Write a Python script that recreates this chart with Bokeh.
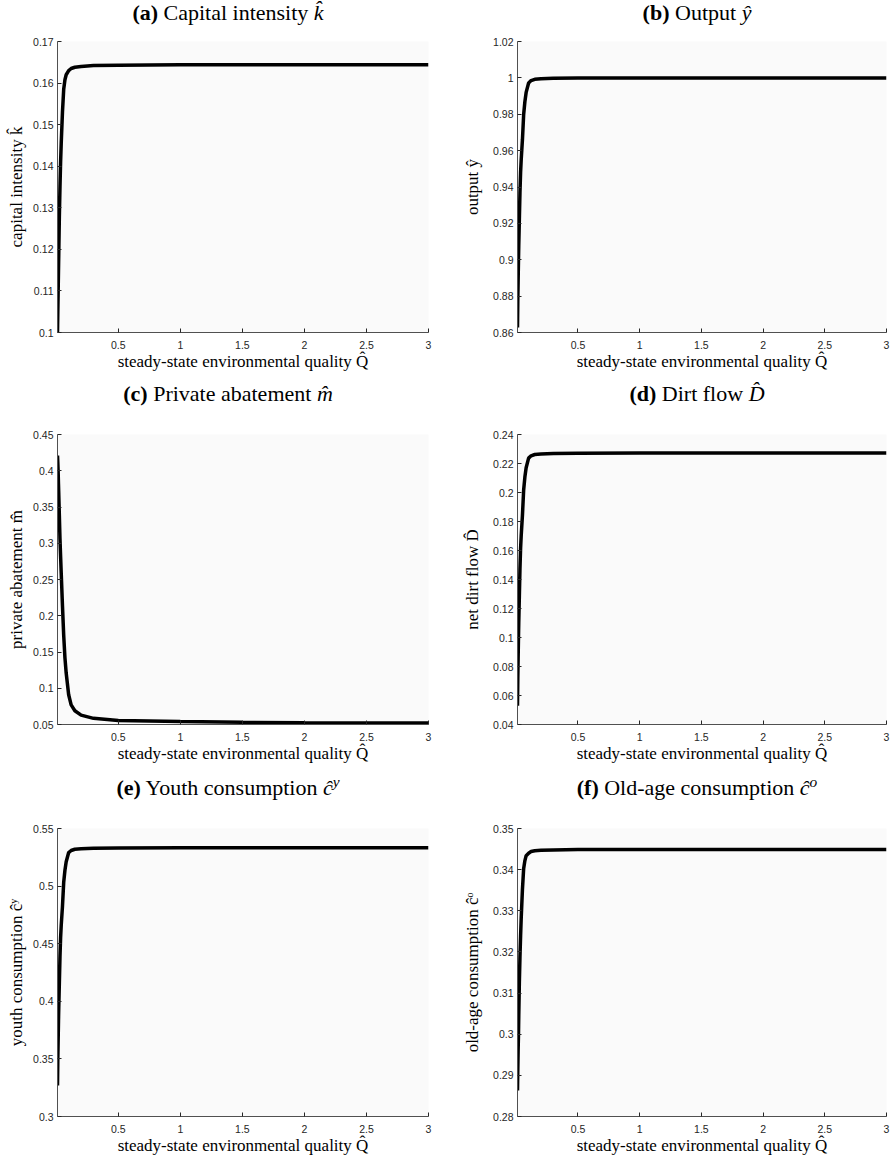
from bokeh.plotting import figure
from bokeh.models import Range1d, FixedTicker, Div
from bokeh.layouts import column, row
from bokeh.embed import file_html
from bokeh.resources import INLINE

# steady-state environmental quality Q-hat (x values)
Q = [0.01, 0.0125, 0.015, 0.018, 0.02, 0.025, 0.03, 0.035, 0.04, 0.05, 0.06, 0.07,
     0.08, 0.1, 0.12, 0.15, 0.2, 0.3, 0.5, 1.0, 1.5, 2.0, 2.5, 3.0]

capital = [0.1000, 0.1050, 0.1095, 0.1150, 0.1185, 0.1280, 0.1350, 0.1410, 0.1455, 0.1530,
           0.1585, 0.1608, 0.1620, 0.1630, 0.1635, 0.1638, 0.1640, 0.1642, 0.1643, 0.1644,
           0.1644, 0.1644, 0.1644, 0.1644]
output = [0.8627, 0.878, 0.888, 0.900, 0.907, 0.922, 0.937, 0.948, 0.955, 0.966, 0.980,
          0.987, 0.992, 0.9972, 0.9985, 0.9992, 0.9995, 0.9998, 0.9999, 1.0, 1.0, 1.0, 1.0, 1.0]
abatement = [0.421, 0.411, 0.400, 0.381, 0.369, 0.338, 0.306, 0.282, 0.259, 0.214, 0.173,
             0.142, 0.121, 0.091, 0.077, 0.069, 0.063, 0.0585, 0.0555, 0.054, 0.053, 0.0525,
             0.0522, 0.052]
dirt = [0.053, 0.0723, 0.0851, 0.1004, 0.1093, 0.1283, 0.1474, 0.1614, 0.1702, 0.1842,
        0.2019, 0.2108, 0.2171, 0.2237, 0.2253, 0.2262, 0.2265, 0.2269, 0.2271, 0.2272,
        0.2272, 0.2273, 0.2273, 0.2273]
youth = [0.327, 0.3499, 0.3649, 0.3831, 0.3936, 0.4161, 0.4388, 0.4553, 0.4658, 0.4823,
         0.5033, 0.5138, 0.5212, 0.5291, 0.5309, 0.5320, 0.5324, 0.5329, 0.5331, 0.5332,
         0.5332, 0.5332, 0.5332, 0.5332]
old = [0.2863, 0.2915, 0.2960, 0.3000, 0.3040, 0.3125, 0.3188, 0.3238, 0.3282, 0.3352,
       0.3403, 0.3422, 0.3434, 0.3440, 0.3444, 0.3446, 0.3447, 0.3448, 0.3449, 0.3449,
       0.3449, 0.3449, 0.3449, 0.3449]

x_ticks = [0.5, 1.0, 1.5, 2.0, 2.5, 3.0]
x_tick_labels = ["0.5", "1", "1.5", "2", "2.5", "3"]
x_limits = [0.01, 3.0]

k_ticks = [0.1, 0.11, 0.12, 0.13, 0.14, 0.15, 0.16, 0.17]
k_labels = ["0.1", "0.11", "0.12", "0.13", "0.14", "0.15", "0.16", "0.17"]
y_ticks = [0.86, 0.88, 0.9, 0.92, 0.94, 0.96, 0.98, 1.0, 1.02]
y_labels = ["0.86", "0.88", "0.9", "0.92", "0.94", "0.96", "0.98", "1", "1.02"]
m_ticks = [0.05, 0.1, 0.15, 0.2, 0.25, 0.3, 0.35, 0.4, 0.45]
m_labels = ["0.05", "0.1", "0.15", "0.2", "0.25", "0.3", "0.35", "0.4", "0.45"]
d_ticks = [0.04, 0.06, 0.08, 0.1, 0.12, 0.14, 0.16, 0.18, 0.2, 0.22, 0.24]
d_labels = ["0.04", "0.06", "0.08", "0.1", "0.12", "0.14", "0.16", "0.18", "0.2", "0.22", "0.24"]
cy_ticks = [0.3, 0.35, 0.4, 0.45, 0.5, 0.55]
cy_labels = ["0.3", "0.35", "0.4", "0.45", "0.5", "0.55"]
co_ticks = [0.28, 0.29, 0.3, 0.31, 0.32, 0.33, 0.34, 0.35]
co_labels = ["0.28", "0.29", "0.3", "0.31", "0.32", "0.33", "0.34", "0.35"]

SUP = '<span style="font-size:0.7em;position:relative;top:-0.55em;line-height:0">{}</span>'
titles = ["<b>(a)</b> Capital intensity <i>k&#770;</i>",
          "<b>(b)</b> Output <i>&#375;</i>",
          "<b>(c)</b> Private abatement <i>m&#770;</i>",
          "<b>(d)</b> Dirt flow <i>D&#770;</i>",
          "<b>(e)</b> Youth consumption <i>&#265;" + SUP.format("y") + "</i>",
          "<b>(f)</b> Old-age consumption <i>&#265;" + SUP.format("o") + "</i>"]
y_axis_labels = ["capital intensity k\u0302", "output \u0177", "private abatement m\u0302",
                 "net dirt flow D\u0302", "youth consumption \u0109\u02b8",
                 "old-age consumption \u0109\u1d52"]
x_axis_label = "steady-state environmental quality Q\u0302"

series = [capital, output, abatement, dirt, youth, old]
ticks = [(k_ticks, k_labels), (y_ticks, y_labels), (m_ticks, m_labels),
         (d_ticks, d_labels), (cy_ticks, cy_labels), (co_ticks, co_labels)]

COL_W = [448, 444]
COL_BL = [57, 69]
COL_BR = [20, 6]
COL_YSTAND = [4, 8]
TITLE_CX = [228, 249]          # title centre within each column
ROW_H = [356, 370, 357]
ROW_TOP = [15, 28, 28]
ROW_BOT = [50, 52, 41]
DIV_H = [26, 24, 24]

SERIF = "Liberation Serif"
SANS = "Liberation Sans"


def make_panel(i):
    r, c = divmod(i, 2)
    w, bl, br = COL_W[c], COL_BL[c], COL_BR[c]
    h, top, bot = ROW_H[r], ROW_TOP[r], ROW_BOT[r]
    tv, tl = ticks[i]
    p = figure(width=w, height=h, title=None,
               x_range=Range1d(x_limits[0], x_limits[1]),
               y_range=Range1d(tv[0], tv[-1]),
               output_backend="svg", toolbar_location=None,
               min_border_left=bl, min_border_right=br,
               min_border_top=top, min_border_bottom=bot,
               background_fill_color="#fafafa", border_fill_color="white")
    p.outline_line_color = None
    p.grid.visible = False
    p.line(Q, series[i], line_width=3.5, line_color="black")

    p.xaxis.ticker = FixedTicker(ticks=x_ticks)
    p.xaxis.major_label_overrides = dict(zip(x_ticks, x_tick_labels))
    p.yaxis.ticker = FixedTicker(ticks=tv)
    p.yaxis.major_label_overrides = dict(zip(tv, tl))
    p.xaxis.axis_label = x_axis_label
    p.yaxis.axis_label = y_axis_labels[i]
    for ax in (p.xaxis, p.yaxis):
        ax.axis_line_color = "#505050"
        ax.axis_line_width = 1
        ax.major_tick_in = 4
        ax.major_tick_out = 0
        ax.major_tick_line_color = "#262626"
        ax.minor_tick_line_color = None
        ax.major_label_text_font = SANS
        ax.major_label_text_font_size = "10.5px"
        ax.major_label_text_color = "#262626"
        ax.axis_label_text_font = SERIF
        ax.axis_label_text_font_size = "17px"
        ax.axis_label_text_font_style = "normal"
        ax.axis_label_text_color = "#000000"
    p.xaxis.major_label_standoff = 8
    p.xaxis.axis_label_standoff = 0
    p.yaxis.major_label_standoff = 4
    p.yaxis.axis_label_standoff = COL_YSTAND[c]

    dh = DIV_H[r]
    iw = 420
    ml = TITLE_CX[c] - iw // 2
    d = Div(text=(f'<div style="width:{iw}px;margin-left:{ml}px;text-align:center;'
                  f'font-family:\'{SERIF}\',serif;font-size:22px;line-height:{dh}px;'
                  f'height:{dh}px;color:#000;white-space:nowrap">{titles[i]}</div>'),
            width=w, height=dh, margin=0)
    return d, p


rows = []
for r in range(3):
    d1, p1 = make_panel(2 * r)
    d2, p2 = make_panel(2 * r + 1)
    rows.append(row(d1, d2, spacing=0))
    rows.append(row(p1, p2, spacing=0))

layout = column(*rows, spacing=0)

with open("out.html", "w") as f:
    f.write(file_html(layout, INLINE, title="steady-state"))
